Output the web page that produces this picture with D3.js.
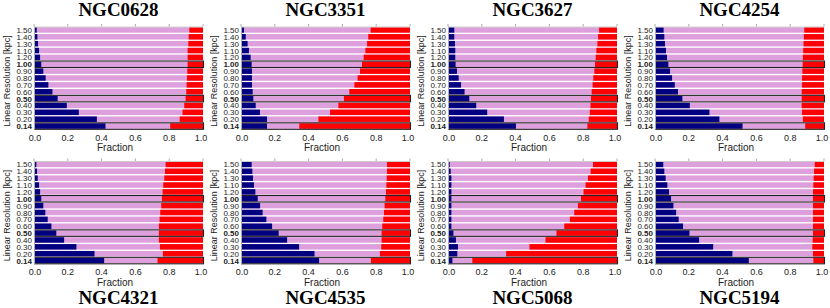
<!DOCTYPE html>
<html>
<head>
<meta charset="utf-8">
<script src="https://cdn.jsdelivr.net/npm/d3@7"></script>
<style>
  body { margin: 0; background: #fff; }
  svg { display: block; }
</style>
</head>
<body>
<div id="graph"></div>
<script>
// rows, top to bottom, as labelled in the figure
var resolutions = ["1.50","1.40","1.30","1.10","1.20","1.00","0.90","0.80","0.70","0.60","0.50","0.40","0.30","0.20","0.14"];
var boldRows = ["1.00","0.50","0.14"];
var galaxies = ["NGC0628","NGC3351","NGC3627","NGC4254","NGC4321","NGC4535","NGC5068","NGC5194"];
var xTicks = [0, 0.2, 0.4, 0.6, 0.8, 1.0];

// navy (left) fraction per row
var navy0628 = [0.016,0.020,0.024,0.030,0.036,0.043,0.055,0.069,0.085,0.109,0.140,0.194,0.265,0.372,0.423];
var navy3351 = [0.018,0.028,0.039,0.047,0.057,0.063,0.065,0.065,0.065,0.069,0.073,0.087,0.112,0.154,0.154];
var navy3627 = [0.037,0.037,0.041,0.043,0.043,0.045,0.053,0.063,0.077,0.098,0.126,0.167,0.232,0.331,0.402];
var navy4254 = [0.051,0.055,0.059,0.065,0.071,0.079,0.089,0.101,0.117,0.136,0.162,0.206,0.322,0.381,0.518];
var navy4321 = [0.014,0.018,0.022,0.030,0.036,0.043,0.055,0.067,0.081,0.103,0.132,0.178,0.251,0.358,0.415];
var navy4535 = [0.063,0.067,0.071,0.077,0.085,0.099,0.113,0.128,0.150,0.184,0.223,0.273,0.344,0.435,0.462];
var navy5068 = [0.010,0.016,0.020,0.020,0.020,0.020,0.020,0.020,0.020,0.020,0.032,0.047,0.059,0.055,0.026];
var navy5194 = [0.049,0.055,0.063,0.073,0.083,0.095,0.109,0.125,0.140,0.166,0.204,0.261,0.344,0.458,0.555];

// red (right) fraction per row
var red0628 = [0.081,0.085,0.087,0.091,0.091,0.091,0.093,0.095,0.097,0.099,0.103,0.111,0.121,0.138,0.194];
var red3351 = [0.233,0.247,0.254,0.264,0.274,0.284,0.296,0.310,0.329,0.359,0.391,0.424,0.473,0.542,0.655];
var red3627 = [0.106,0.112,0.116,0.122,0.126,0.130,0.134,0.140,0.144,0.150,0.154,0.157,0.161,0.167,0.175];
var red4254 = [0.117,0.119,0.121,0.123,0.125,0.126,0.128,0.130,0.130,0.132,0.132,0.132,0.130,0.125,0.111];
var red4321 = [0.221,0.225,0.229,0.235,0.239,0.243,0.247,0.253,0.257,0.261,0.261,0.261,0.255,0.237,0.269];
var red4535 = [0.136,0.136,0.138,0.140,0.142,0.146,0.150,0.154,0.158,0.164,0.168,0.168,0.170,0.178,0.231];
var red5068 = [0.142,0.156,0.172,0.186,0.198,0.213,0.231,0.253,0.279,0.312,0.358,0.423,0.518,0.656,0.856];
var red5194 = [0.055,0.059,0.061,0.063,0.065,0.065,0.065,0.065,0.065,0.065,0.065,0.067,0.069,0.065,0.063];

var navySets = [navy0628, navy3351, navy3627, navy4254, navy4321, navy4535, navy5068, navy5194];
var redSets = [red0628, red3351, red3627, red4254, red4321, red4535, red5068, red5194];

var W = 830, H = 308;
var plotW = 169, plotH = 103;
var lefts = [34, 241, 448, 655];
var tops = [26.5, 161];

var svg = d3.select("#graph").append("svg")
    .attr("width", W)
    .attr("height", H);

var sans = "'Liberation Sans', Arial, Helvetica, sans-serif";
var serif = "'Liberation Serif', 'Times New Roman', serif";

galaxies.forEach(function (name, i) {
    var col = i % 4, row = Math.floor(i / 4);
    var g = svg.append("g")
        .attr("transform", "translate(" + lefts[col] + "," + tops[row] + ")");

    var x = d3.scaleLinear().domain([0, 1]).range([0, plotW]);
    var y = d3.scaleBand().domain(resolutions).range([0, plotH]).paddingInner(0.2).paddingOuter(0.1);

    var rows = resolutions.map(function (r, k) {
        return { res: r, navy: navySets[i][k], red: redSets[i][k] };
    });

    // middle (plum) runs full width, navy and red drawn on top
    g.selectAll(".mid").data(rows).enter().append("rect")
        .attr("x", x(0))
        .attr("y", function (d) { return y(d.res); })
        .attr("width", x(1) - x(0))
        .attr("height", y.bandwidth())
        .style("fill", "#dda0dd");

    g.selectAll(".navy").data(rows).enter().append("rect")
        .attr("x", x(0))
        .attr("y", function (d) { return y(d.res); })
        .attr("width", function (d) { return x(d.navy) - x(0); })
        .attr("height", y.bandwidth())
        .style("fill", "#000080");

    g.selectAll(".red").data(rows).enter().append("rect")
        .attr("x", function (d) { return x(1 - d.red); })
        .attr("y", function (d) { return y(d.res); })
        .attr("width", function (d) { return x(1) - x(1 - d.red); })
        .attr("height", y.bandwidth())
        .style("fill", "#ff0000");

    // outlined rows
    g.selectAll(".outline").data(rows.filter(function (d) { return boldRows.indexOf(d.res) >= 0; }))
        .enter().append("rect")
        .attr("x", x(0) + 0.5)
        .attr("y", function (d) { return y(d.res) - 0.5; })
        .attr("width", x(1) - x(0))
        .attr("height", y.bandwidth() + 1)
        .style("fill", "none")
        .style("stroke", "#222")
        .style("stroke-width", 1.1);

    // frame
    g.append("line")
        .attr("x1", 0.5).attr("x2", 0.5).attr("y1", 0).attr("y2", plotH)
        .style("stroke", "#aaa");
    g.append("line")
        .attr("x1", 0).attr("x2", plotW).attr("y1", 0.5).attr("y2", 0.5)
        .style("stroke", "#ccc");
    g.selectAll(".ttick").data(xTicks).enter().append("line")
        .attr("x1", function (d) { return x(d); })
        .attr("x2", function (d) { return x(d); })
        .attr("y1", 0).attr("y2", -2.5)
        .style("stroke", "#aaa");

    // y labels
    g.selectAll(".ylab").data(resolutions).enter().append("text")
        .attr("x", -2)
        .attr("y", function (d) { return y(d) + y.bandwidth() / 2 + 3; })
        .attr("text-anchor", "end")
        .style("font-family", sans)
        .style("font-size", "8px")
        .style("font-weight", function (d) { return boldRows.indexOf(d) >= 0 ? "bold" : "normal"; })
        .style("fill", "#222")
        .text(function (d) { return d; });

    // x labels
    g.selectAll(".xlab").data(xTicks).enter().append("text")
        .attr("x", function (d) { return x(d) + (d === 0 ? 1 : d === 1 ? -2 : 0); })
        .attr("y", plotH + 11)
        .attr("text-anchor", "middle")
        .style("font-family", sans)
        .style("font-size", "9px")
        .style("fill", "#222")
        .text(function (d) { return d3.format(".1f")(d); });

    g.append("text")
        .attr("x", plotW / 2 - 3.5)
        .attr("y", plotH + 21.5)
        .attr("text-anchor", "middle")
        .style("font-family", sans)
        .style("font-size", "10px")
        .style("fill", "#222")
        .text("Fraction");

    g.append("text")
        .attr("transform", "translate(-24," + (plotH / 2 + 3) + ") rotate(-90)")
        .attr("text-anchor", "middle")
        .style("font-family", sans)
        .style("font-size", "9px")
        .style("fill", "#222")
        .text("Linear Resolution [kpc]");

    // panel title: above for top row, below for bottom row
    g.append("text")
        .attr("x", plotW / 2)
        .attr("y", row === 0 ? -10.5 : plotH + 40)
        .attr("text-anchor", "middle")
        .style("font-family", serif)
        .style("font-weight", "bold")
        .style("font-size", "19px")
        .style("fill", "#000")
        .text(name);
});
</script>
</body>
</html>
